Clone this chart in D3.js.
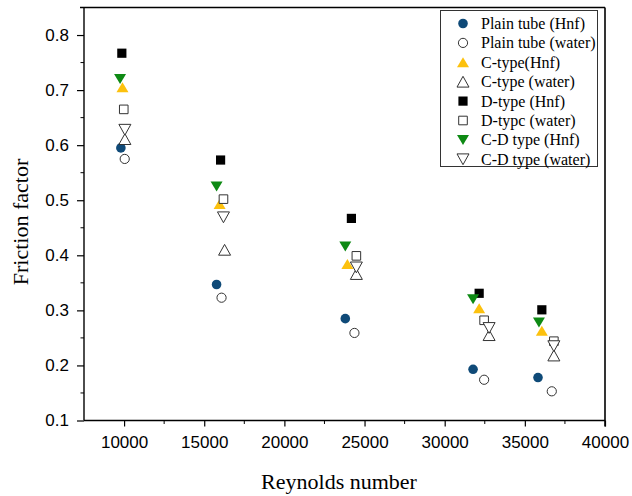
<!DOCTYPE html>
<html>
<head>
<meta charset="utf-8">
<script src="https://cdn.jsdelivr.net/npm/d3@7"></script>
<style>
  html, body { margin: 0; padding: 0; background: #fff; }
  svg { display: block; }
</style>
</head>
<body>
<svg id="chart" width="632" height="496"></svg>
<script>
// Friction factor vs. Reynolds number for four tube geometries, nanofluid (Hnf) and water
const seriesNames = [
  "Plain tube (Hnf)", "Plain tube (water)", "C-type(Hnf)", "C-type (water)",
  "D-type (Hnf)", "D-typc (water)", "C-D type (Hnf)", "C-D type (water)"
];
const plainHnfRe   = [9800, 15770, 23800, 31770, 35820];
const plainHnfF    = [0.595, 0.347, 0.285, 0.193, 0.178];
const plainWaterRe = [10040, 16080, 24370, 32460, 36680];
const plainWaterF  = [0.575, 0.323, 0.259, 0.174, 0.153];
const cHnfRe       = [9900, 15960, 23930, 32150, 36060];
const cHnfF        = [0.705, 0.493, 0.384, 0.304, 0.263];
const cWaterRe     = [10050, 16270, 24490, 32770, 36810];
const cWaterF      = [0.611, 0.410, 0.366, 0.255, 0.218];
const dHnfRe       = [9860, 16020, 24180, 32150, 36060];
const dHnfF        = [0.767, 0.573, 0.467, 0.331, 0.301];
const dWaterRe     = [9980, 16200, 24490, 32460, 36810];
const dWaterF      = [0.665, 0.502, 0.399, 0.282, 0.244];
const cdHnfRe      = [9750, 15770, 23800, 31770, 35880];
const cdHnfF       = [0.720, 0.525, 0.416, 0.320, 0.278];
const cdWaterRe    = [10050, 16200, 24490, 32770, 36810];
const cdWaterF     = [0.628, 0.469, 0.378, 0.268, 0.235];

const xTicks = [10000, 15000, 20000, 25000, 30000, 35000, 40000];
const yTicks = [0.1, 0.2, 0.3, 0.4, 0.5, 0.6, 0.7, 0.8];

// marker styles: [shape, fill, stroke]
const styles = [
  ["circle", "#0f4a78", "none"],
  ["circle", "#fff", "#333"],
  ["up", "#fcc10e", "none"],
  ["up", "#fff", "#333"],
  ["square", "#000", "none"],
  ["square", "#fff", "#333"],
  ["down", "#0e8a14", "none"],
  ["down", "#fff", "#333"]
];
const seriesRe = [plainHnfRe, plainWaterRe, cHnfRe, cWaterRe, dHnfRe, dWaterRe, cdHnfRe, cdWaterRe];
const seriesF  = [plainHnfF, plainWaterF, cHnfF, cWaterF, dHnfF, dWaterF, cdHnfF, cdWaterF];

const svg = d3.select("#chart");
const padL = 84, padR = 605, padT = 7.5, padB = 420.5;

const x = d3.scaleLinear().domain([7500, 40000]).range([padL, padR]);
const y = d3.scaleLinear().domain([0.1, 0.85]).range([padB, padT]);

// marker path generator, centred on the bounding box
function markerPath(shape, filled) {
  if (shape === "circle") {
    const r = filled ? 4.8 : 4.6;
    return `M${-r},0A${r},${r} 0 1,0 ${r},0A${r},${r} 0 1,0 ${-r},0Z`;
  }
  if (shape === "square") {
    const h = filled ? 4.6 : 4.3;
    return `M${-h},${-h}H${h}V${h}H${-h}Z`;
  }
  const w = 6, hh = filled ? 5 : 5.4;
  if (shape === "up") return `M0,${-hh}L${w},${hh}L${-w},${hh}Z`;
  return `M0,${hh}L${w},${-hh}L${-w},${-hh}Z`;
}

// frame
svg.append("line").attr("x1", padL - 4).attr("x2", padR).attr("y1", padT).attr("y2", padT)
  .attr("stroke", "#000").attr("stroke-width", 1.4);
svg.append("line").attr("x1", padR).attr("x2", padR).attr("y1", padT).attr("y2", padB + 6)
  .attr("stroke", "#000").attr("stroke-width", 1.6);

// x axis
const xAxis = svg.append("g").attr("transform", `translate(0,${padB})`)
  .call(d3.axisBottom(x).tickValues(xTicks).tickSize(6).tickPadding(9).tickSizeOuter(0)
    .tickFormat(d3.format("d")));
xAxis.append("g").selectAll("line").data(d3.range(12500, 40000, 5000)).join("line")
  .attr("x1", d => x(d)).attr("x2", d => x(d)).attr("y1", 0).attr("y2", 3.5)
  .attr("stroke", "#000");
xAxis.select(".domain").attr("d", `M${padL},0H${padR}`).attr("stroke-width", 1.4);

// y axis
const yAxis = svg.append("g").attr("transform", `translate(${padL},0)`)
  .call(d3.axisLeft(y).tickValues(yTicks).tickSize(7).tickPadding(8).tickSizeOuter(0)
    .tickFormat(d3.format(".1f")));
yAxis.append("g").selectAll("line").data(d3.range(0.15, 0.85, 0.1)).join("line")
  .attr("x1", 0).attr("x2", -3.5).attr("y1", d => y(d)).attr("y2", d => y(d))
  .attr("stroke", "#000");
yAxis.select(".domain").attr("d", `M0,${padB}V${padT}`).attr("stroke-width", 1.4);

svg.selectAll(".tick line").attr("stroke-width", 1.2);
svg.selectAll(".tick text")
  .attr("font-family", "Liberation Sans, Arial, sans-serif")
  .attr("font-size", 17).attr("fill", "#000");

// axis titles
svg.append("text").attr("x", 339).attr("y", 489).attr("text-anchor", "middle")
  .attr("font-family", "Liberation Serif, Times New Roman, serif").attr("font-size", 22)
  .text("Reynolds number");
svg.append("text").attr("transform", "translate(28,222) rotate(-90)").attr("text-anchor", "middle")
  .attr("font-family", "Liberation Serif, Times New Roman, serif").attr("font-size", 22)
  .text("Friction factor");

// data points
const plot = svg.append("g");
seriesRe.forEach((reArr, i) => {
  const [shape, fill, stroke] = styles[i];
  const filled = stroke === "none";
  plot.append("g").selectAll("path")
    .data(reArr.map((re, j) => ({ re, f: seriesF[i][j] })))
    .join("path")
    .attr("transform", d => `translate(${x(d.re)},${y(d.f)})`)
    .attr("d", markerPath(shape, filled))
    .attr("fill", fill)
    .attr("stroke", stroke)
    .attr("stroke-width", 1);
});

// legend
const legend = svg.append("g");
legend.append("rect").attr("x", 440.5).attr("y", 10.5).attr("width", 157).attr("height", 156)
  .attr("fill", "#fff").attr("stroke", "#333").attr("stroke-width", 1);
seriesNames.forEach((name, i) => {
  const [shape, fill, stroke] = styles[i];
  const yy = 23.5 + i * 19.4;
  legend.append("path").attr("transform", `translate(463,${yy})`)
    .attr("d", markerPath(shape, stroke === "none"))
    .attr("fill", fill).attr("stroke", stroke).attr("stroke-width", 1);
  legend.append("text").attr("x", 481).attr("y", yy + 5.5)
    .attr("font-family", "Liberation Serif, Times New Roman, serif").attr("font-size", 16)
    .text(name);
});
</script>
</body>
</html>
